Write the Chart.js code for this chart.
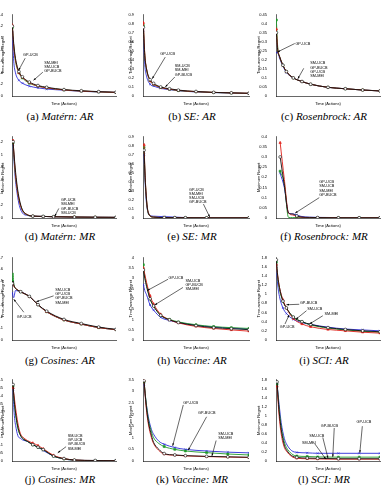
<!DOCTYPE html>
<html><head><meta charset="utf-8">
<script src="https://cdn.jsdelivr.net/npm/chart.js@4/dist/chart.umd.min.js"></script>
<style>
body{margin:0;background:#fff;width:385px;height:491px;position:relative;overflow:hidden}
canvas{position:absolute}
.cap{position:absolute;width:130px;margin-left:-65px;font-family:"Liberation Serif","DejaVu Serif",serif;font-size:11px;text-align:center;white-space:nowrap;color:#000}
</style></head><body>
<script>
// x samples (actions) shared by the time-average panels
var arX = [1, 5, 10, 20, 30, 50, 75, 100, 150, 200, 250, 300];
var arXTicks = [0, 50, 100, 150, 200, 250, 300];
var mrXTicks = [0, 20, 40, 60, 80, 100];

// (a) Matern AR
var aSmUcb  = [1.20, 0.90, 0.65, 0.42, 0.33, 0.24, 0.18, 0.15, 0.11, 0.09, 0.075, 0.065];
var aSmMei  = [1.22, 0.85, 0.62, 0.40, 0.32, 0.23, 0.17, 0.14, 0.105, 0.085, 0.072, 0.062];
var aGpBucb = [1.18, 0.86, 0.60, 0.40, 0.31, 0.22, 0.17, 0.14, 0.105, 0.085, 0.07, 0.06];
var aGpUcb  = [1.10, 0.60, 0.40, 0.27, 0.22, 0.17, 0.14, 0.12, 0.10, 0.08, 0.07, 0.06];
var aYTicks = [0, 0.2, 0.4, 0.6, 0.8, 1, 1.2, 1.4];

// (b) SE AR
var bSmUcb  = [0.76, 0.45, 0.30, 0.18, 0.14, 0.10, 0.08, 0.065, 0.05, 0.04, 0.035, 0.03];
var bSmMei  = [0.81, 0.47, 0.30, 0.17, 0.13, 0.095, 0.075, 0.062, 0.048, 0.04, 0.034, 0.03];
var bGpBucb = [0.78, 0.45, 0.29, 0.17, 0.13, 0.095, 0.075, 0.06, 0.047, 0.039, 0.033, 0.029];
var bGpUcb  = [0.72, 0.35, 0.22, 0.13, 0.11, 0.085, 0.07, 0.058, 0.045, 0.038, 0.032, 0.028];
var bYTicks = [0, 0.1, 0.2, 0.3, 0.4, 0.5, 0.6, 0.7, 0.8, 0.9];

// (c) Rosenbrock AR
var cSmUcb  = [0.35, 0.25, 0.22, 0.17, 0.135, 0.10, 0.08, 0.065, 0.048, 0.04, 0.033, 0.028];
var cSmMei  = [0.37, 0.26, 0.22, 0.17, 0.135, 0.10, 0.08, 0.065, 0.048, 0.04, 0.033, 0.028];
var cGpBucb = [0.42, 0.27, 0.22, 0.17, 0.135, 0.10, 0.08, 0.065, 0.048, 0.04, 0.033, 0.028];
var cGpUcb  = [0.24, 0.24, 0.21, 0.165, 0.13, 0.10, 0.08, 0.065, 0.048, 0.04, 0.033, 0.028];
var cYTicks = [0, 0.05, 0.1, 0.15, 0.2, 0.25, 0.3, 0.35, 0.4, 0.45];

// (d) Matern MR
var dX      = [1, 3, 5, 7, 10, 15, 20, 30, 40, 60, 80, 100];
var dSmUcb  = [1.20, 0.80, 0.50, 0.30, 0.13, 0.05, 0.03, 0.025, 0.02, 0.015, 0.012, 0.01];
var dSmMei  = [1.22, 0.75, 0.45, 0.27, 0.12, 0.05, 0.03, 0.025, 0.02, 0.015, 0.012, 0.01];
var dGpBucb = [1.18, 0.72, 0.45, 0.27, 0.12, 0.045, 0.03, 0.025, 0.02, 0.015, 0.012, 0.01];
var dGpUcb  = [1.15, 0.65, 0.38, 0.20, 0.08, 0.04, 0.03, 0.025, 0.02, 0.015, 0.012, 0.01];
var dYTicks = [0, 0.2, 0.4, 0.6, 0.8, 1, 1.2];

// (e) SE MR
var eX      = [1, 2, 3, 4, 5, 7, 10, 20, 30, 40, 60, 100];
var eSmUcb  = [0.75, 0.45, 0.25, 0.12, 0.06, 0.02, 0.01, 0.005, 0.004, 0.003, 0.002, 0.002];
var eSmMei  = [0.81, 0.47, 0.26, 0.12, 0.06, 0.02, 0.01, 0.005, 0.004, 0.003, 0.002, 0.002];
var eGpBucb = [0.78, 0.45, 0.24, 0.11, 0.05, 0.02, 0.01, 0.005, 0.004, 0.003, 0.002, 0.002];
var eGpUcb  = [0.70, 0.40, 0.20, 0.10, 0.05, 0.025, 0.02, 0.015, 0.01, 0.005, 0.003, 0.002];
var eYTicks = [0, 0.1, 0.2, 0.3, 0.4, 0.5, 0.6, 0.7, 0.8, 0.9];

// (f) Rosenbrock MR
var fX      = [1, 2, 3, 4, 5, 6, 8, 10, 15, 20, 25];
var fSmUcb  = [0.30, 0.16, 0.025, 0.02, 0.01, 0.005, 0.003, 0.002, 0.001, 0.001, 0.001];
var fSmMei  = [0.37, 0.19, 0.025, 0.015, 0.008, 0.004, 0.002, 0.002, 0.001, 0.001, 0.001];
var fGpBucb = [0.23, 0.17, 0.003, 0.002, 0.002, 0.001, 0.001, 0.001, 0.001, 0.001, 0.001];
var fGpUcb  = [0.22, 0.15, 0.025, 0.02, 0.015, 0.008, 0.004, 0.003, 0.002, 0.001, 0.001];
var fXTicks = [0, 5, 10, 15, 20, 25];
var fYTicks = [0, 0.05, 0.1, 0.15, 0.2, 0.25, 0.3, 0.35, 0.4];

// (g) Cosines AR
var gX      = [1, 3, 5, 10, 25, 50, 75, 100, 150, 200, 250, 300];
var gSmUcb  = [0.48, 0.50, 0.47, 0.44, 0.41, 0.37, 0.30, 0.245, 0.175, 0.14, 0.11, 0.09];
var gSmMei  = [0.48, 0.49, 0.46, 0.44, 0.41, 0.37, 0.30, 0.24, 0.17, 0.135, 0.105, 0.088];
var gGpBucb = [0.50, 0.57, 0.48, 0.44, 0.41, 0.37, 0.30, 0.24, 0.17, 0.135, 0.105, 0.088];
var gGpUcb  = [0.40, 0.37, 0.36, 0.42, 0.41, 0.37, 0.30, 0.24, 0.17, 0.135, 0.105, 0.088];
var gYTicks = [0, 0.1, 0.2, 0.3, 0.4, 0.5, 0.6, 0.7];

// (h) Vaccine AR
var hSmUcb  = [3.40, 3.00, 2.60, 2.00, 1.65, 1.20, 0.98, 0.85, 0.70, 0.60, 0.55, 0.50];
var hSmMei  = [3.50, 3.20, 2.80, 2.15, 1.75, 1.25, 0.98, 0.83, 0.66, 0.56, 0.49, 0.43];
var hGpBucb = [3.65, 3.10, 2.70, 2.00, 1.65, 1.20, 1.00, 0.88, 0.74, 0.65, 0.60, 0.56];
var hGpUcb  = [2.70, 2.40, 2.20, 1.70, 1.45, 1.10, 0.95, 0.85, 0.72, 0.63, 0.58, 0.53];
var hYTicks = [0, 0.5, 1, 1.5, 2, 2.5, 3, 3.5, 4];

// (i) SCI AR
var iSmUcb  = [1.75, 1.40, 1.15, 0.85, 0.70, 0.50, 0.40, 0.34, 0.27, 0.23, 0.20, 0.18];
var iSmMei  = [1.65, 1.40, 1.15, 0.88, 0.70, 0.47, 0.35, 0.29, 0.23, 0.20, 0.17, 0.15];
var iGpBucb = [1.70, 1.35, 1.10, 0.85, 0.70, 0.50, 0.40, 0.33, 0.26, 0.22, 0.19, 0.17];
var iGpUcb  = [1.60, 1.20, 0.95, 0.70, 0.58, 0.45, 0.38, 0.34, 0.28, 0.24, 0.22, 0.20];
var iYTicks = [0, 0.2, 0.4, 0.6, 0.8, 1, 1.2, 1.4, 1.6, 1.8];

// (j) Cosines MR
var jX      = [1, 2, 4, 6, 8, 10, 15, 20, 25, 30, 40, 50, 60, 80, 100];
var jSmUcb  = [0.47, 0.38, 0.27, 0.20, 0.16, 0.14, 0.12, 0.10, 0.085, 0.07, 0.03, 0.015, 0.006, 0.003, 0.002];
var jSmMei  = [0.45, 0.40, 0.30, 0.22, 0.17, 0.15, 0.125, 0.11, 0.095, 0.075, 0.035, 0.015, 0.006, 0.003, 0.002];
var jGpBucb = [0.46, 0.37, 0.26, 0.19, 0.16, 0.14, 0.12, 0.10, 0.085, 0.07, 0.03, 0.013, 0.005, 0.003, 0.002];
var jGpUcb  = [0.44, 0.30, 0.20, 0.15, 0.14, 0.13, 0.12, 0.10, 0.085, 0.065, 0.03, 0.012, 0.005, 0.003, 0.002];
var jYTicks = [0, 0.05, 0.1, 0.15, 0.2, 0.25, 0.3, 0.35, 0.4, 0.45, 0.5];

// (k) Vaccine MR
var kX      = [1, 3, 5, 8, 10, 15, 20, 30, 40, 60, 80, 100];
var kSmUcb  = [3.45, 2.40, 1.70, 1.10, 0.80, 0.50, 0.32, 0.26, 0.23, 0.20, 0.18, 0.16];
var kSmMei  = [3.45, 2.30, 1.60, 1.00, 0.75, 0.45, 0.30, 0.25, 0.22, 0.19, 0.17, 0.15];
var kGpBucb = [3.40, 2.50, 1.80, 1.25, 1.00, 0.75, 0.62, 0.50, 0.43, 0.36, 0.30, 0.26];
var kGpUcb  = [3.30, 2.50, 1.90, 1.35, 1.15, 0.85, 0.72, 0.58, 0.50, 0.43, 0.38, 0.35];
var kYTicks = [0, 0.5, 1, 1.5, 2, 2.5, 3, 3.5];

// (l) SCI MR
var lSmUcb  = [1.75, 1.10, 0.70, 0.35, 0.25, 0.12, 0.08, 0.065, 0.06, 0.05, 0.05, 0.05];
var lSmMei  = [1.65, 1.00, 0.60, 0.30, 0.22, 0.10, 0.06, 0.05, 0.045, 0.04, 0.04, 0.04];
var lGpBucb = [1.70, 1.15, 0.75, 0.42, 0.30, 0.16, 0.11, 0.10, 0.09, 0.085, 0.085, 0.085];
var lGpUcb  = [1.70, 1.25, 0.85, 0.50, 0.38, 0.23, 0.19, 0.18, 0.17, 0.17, 0.17, 0.17];
var lYTicks = [0, 0.2, 0.4, 0.6, 0.8, 1, 1.2, 1.4, 1.6, 1.8];

var AR = 'Time-average Regret', MR = 'Minimum Regret';

// series drawn in this order: SM-UCB, SM-MEI, GP-BUCB, GP-UCB
var colors = ['#111111', '#e0201a', '#1f9a2a', '#2b2bd8'];
var marks = ['circle', 'triangle', 'rect', 'crossRot'];

// layout per grid column / row
var colLeft = [0, 128, 256], colW = [128, 128, 129];
var areaL = [12, 143, 276], areaR = [116, 249, 380];
var rowTop = [13, 135, 256, 378], rowBot = [96, 218, 340, 461];
var capY = [117, 237, 361, 480];

// t = text position, s/e = arrow start/end, all in data units
var panels = [
  {cap: '(a)', it: 'Matérn: AR', x: arX, s: [aSmUcb, aSmMei, aGpBucb, aGpUcb], xt: arXTicks, yt: aYTicks, xmax: 300, ymax: 1.4, yl: AR, mk: 20,
   notes: [{l: ['GP-UCB'], t: [32, 0.71], s: [38, 0.65], e: [19, 0.44]},
           {l: ['SM-MEI', 'SM-UCB', 'GP-BUCB'], t: [93, 0.57], s: [89, 0.41], e: [62, 0.27]}]},
  {cap: '(b)', it: 'SE: AR', x: arX, s: [bSmUcb, bSmMei, bGpBucb, bGpUcb], xt: arXTicks, yt: bYTicks, xmax: 300, ymax: 0.9, yl: AR, mk: 20,
   notes: [{l: ['GP-UCB'], t: [49, 0.46], s: [63, 0.43], e: [26, 0.19]},
           {l: ['SM-UCB', 'SM-MEI', 'GP-BUCB'], t: [90, 0.33], s: [90, 0.21], e: [63, 0.1]}]},
  {cap: '(c)', it: 'Rosenbrock: AR', x: arX, s: [cSmUcb, cSmMei, cGpBucb, cGpUcb], xt: arXTicks, yt: cYTicks, xmax: 300, ymax: 0.45, yl: AR, mk: 20,
   notes: [{l: ['GP-UCB'], t: [56, 0.29], s: [54, 0.29], e: [4, 0.243]},
           {l: ['SM-UCB', 'GP-BUCB', 'GP-UCB', 'SM-MEI'], t: [99, 0.18], s: [80, 0.153], e: [63, 0.095]}]},
  {cap: '(d)', it: 'Matérn: MR', x: dX, s: [dSmUcb, dSmMei, dGpBucb, dGpUcb], xt: mrXTicks, yt: dYTicks, xmax: 100, ymax: 1.28, yl: MR, mk: 20,
   notes: [{l: ['GP-UCB', 'SM-MEI', 'GP-BUCB', 'SM-UCB'], t: [47, 0.28], s: [45, 0.15], e: [41, 0.025]}]},
  {cap: '(e)', it: 'SE: MR', x: eX, s: [eSmUcb, eSmMei, eGpBucb, eGpUcb], xt: mrXTicks, yt: eYTicks, xmax: 100, ymax: 0.9, yl: MR, mk: 20,
   notes: [{l: ['GP-UCB', 'SM-MEI', 'SM-UCB', 'GP-BUCB'], t: [43.5, 0.315], s: [57, 0.154], e: [63, 0.01]}]},
  {cap: '(f)', it: 'Rosenbrock: MR', x: fX, s: [fSmUcb, fSmMei, fGpBucb, fGpUcb], xt: fXTicks, yt: fYTicks, xmax: 25, ymax: 0.4, yl: MR, mk: 5,
   notes: [{l: ['GP-UCB', 'SM-UCB', 'SM-MEI', 'GP-BUCB'], t: [10.4, 0.176], s: [10.4, 0.1], e: [4.6, 0.024]}]},
  {cap: '(g)', it: 'Cosines: AR', x: gX, s: [gSmUcb, gSmMei, gGpBucb, gGpUcb], xt: arXTicks, yt: gYTicks, xmax: 300, ymax: 0.7, yl: AR, mk: 25,
   notes: [{l: ['SM-UCB', 'GP-UCB', 'GP-BUCB', 'SM-MEI'], t: [125, 0.425], s: [120, 0.375], e: [70, 0.325]},
           {l: ['GP-UCB'], t: [14, 0.2], s: [34, 0.236], e: [5, 0.347]}]},
  {cap: '(h)', it: 'Vaccine: AR', x: arX, s: [hSmUcb, hSmMei, hGpBucb, hGpUcb], xt: arXTicks, yt: hYTicks, xmax: 300, ymax: 4, yl: AR, mk: 20,
   notes: [{l: ['GP-UCB'], t: [72, 3.03], s: [71, 2.95], e: [12, 2.4]},
           {l: ['SM-UCB', 'GP-BUCB', 'SM-MEI'], t: [120, 2.87], s: [113, 2.55], e: [33, 1.7]}]},
  {cap: '(i)', it: 'SCI: AR', x: arX, s: [iSmUcb, iSmMei, iGpBucb, iGpUcb], xt: arXTicks, yt: iYTicks, xmax: 300, ymax: 1.8, yl: AR, mk: 20,
   notes: [{l: ['GP-BUCB'], t: [69, 0.8], s: [67, 0.78], e: [30, 0.77]},
           {l: ['SM-UCB'], t: [90, 0.68], s: [88, 0.64], e: [57, 0.45]},
           {l: ['SM-MEI'], t: [140, 0.56], s: [135, 0.53], e: [97, 0.35]},
           {l: ['GP-UCB'], t: [11, 0.28], s: [26, 0.35], e: [38, 0.55]}]},
  {cap: '(j)', it: 'Cosines: MR', x: jX, s: [jSmUcb, jSmMei, jGpBucb, jGpUcb], xt: mrXTicks, yt: jYTicks, xmax: 100, ymax: 0.5, yl: MR, mk: 20,
   notes: [{l: ['SM-UCB', 'GP-UCB', 'GP-BUCB', 'SM-MEI'], t: [53.5, 0.154], s: [52, 0.088], e: [44, 0.05]}]},
  {cap: '(k)', it: 'Vaccine: MR', x: kX, s: [kSmUcb, kSmMei, kGpBucb, kGpUcb], xt: mrXTicks, yt: kYTicks, xmax: 100, ymax: 3.5, yl: MR, mk: 20,
   notes: [{l: ['GP-UCB'], t: [38, 2.48], s: [38, 2.41], e: [28, 0.65]},
           {l: ['GP-BUCB'], t: [52, 2.06], s: [60, 1.9], e: [42.6, 0.46]},
           {l: ['SM-UCB', 'SM-MEI'], t: [71, 1.16], s: [69, 0.88], e: [65, 0.21]}]},
  {cap: '(l)', it: 'SCI: MR', x: kX, s: [lSmUcb, lSmMei, lGpBucb, lGpUcb], xt: mrXTicks, yt: lYTicks, xmax: 100, ymax: 1.8, yl: MR, mk: 20,
   notes: [{l: ['GP-UCB'], t: [77.5, 0.86], s: [83, 0.77], e: [80.6, 0.18]},
           {l: ['GP-BUCB'], t: [43, 0.77], s: [56, 0.73], e: [54.6, 0.09]},
           {l: ['SM-UCB'], t: [32, 0.55], s: [45, 0.52], e: [50, 0.06]},
           {l: ['SM-MEI'], t: [25, 0.41], s: [37, 0.39], e: [48, 0.04]}]}
];

function fmt(v) { return String(+(+v).toFixed(3)); }

function notesPlugin(notes) {
  return {
    id: 'notes',
    afterDatasetsDraw: function (chart) {
      var ctx = chart.ctx, x = chart.scales.x, y = chart.scales.y;
      ctx.save();
      ctx.font = '3.8px "Liberation Sans", Arial, sans-serif';
      ctx.fillStyle = '#000';
      ctx.strokeStyle = '#000';
      ctx.lineWidth = 0.6;
      ctx.textBaseline = 'middle';
      notes.forEach(function (n) {
        var tx = x.getPixelForValue(n.t[0]), ty = y.getPixelForValue(n.t[1]);
        n.l.forEach(function (s, i) { ctx.fillText(s, tx, ty + i * 4.2); });
        var sx = x.getPixelForValue(n.s[0]), sy = y.getPixelForValue(n.s[1]);
        var ex = x.getPixelForValue(n.e[0]), ey = y.getPixelForValue(n.e[1]);
        ctx.beginPath(); ctx.moveTo(sx, sy); ctx.lineTo(ex, ey); ctx.stroke();
        var a = Math.atan2(ey - sy, ex - sx), L = 2.6, W = 0.9;
        ctx.beginPath();
        ctx.moveTo(ex, ey);
        ctx.lineTo(ex - L * Math.cos(a) + W * Math.sin(a), ey - L * Math.sin(a) - W * Math.cos(a));
        ctx.lineTo(ex - L * Math.cos(a) - W * Math.sin(a), ey - L * Math.sin(a) + W * Math.cos(a));
        ctx.closePath(); ctx.fill();
      });
      ctx.restore();
    }
  };
}

var names = ['SM-UCB', 'SM-MEI', 'GP-BUCB', 'GP-UCB'];
var tickFont = {family: '"Liberation Sans", Arial, sans-serif', size: 4};

panels.forEach(function (p, k) {
  var col = k % 3, row = Math.floor(k / 3);
  var padTop = 3, xH = 10;
  var top = rowTop[row] - padTop;
  var h = padTop + (rowBot[row] - rowTop[row]) + xH;
  var cv = document.createElement('canvas');
  cv.width = colW[col]; cv.height = h;
  cv.style.left = colLeft[col] + 'px'; cv.style.top = top + 'px';
  document.body.appendChild(cv);

  var cap = document.createElement('div');
  cap.className = 'cap';
  cap.style.left = ((areaL[col] + areaR[col]) / 2 - 4) + 'px';
  cap.style.top = (capY[row] - 7) + 'px';
  cap.innerHTML = p.cap + ' <i>' + p.it + '</i>';
  document.body.appendChild(cap);

  var datasets = p.s.map(function (ys, j) {
    return {
      label: names[j],
      data: p.x.map(function (v, i) { return {x: v, y: ys[i]}; }),
      borderColor: colors[j],
      backgroundColor: j === 0 ? '#fff' : colors[j],
      borderWidth: 0.9,
      pointStyle: marks[j],
      pointBorderWidth: 0.6,
      pointRadius: function (c) {
        var v = p.x[c.dataIndex];
        return (c.dataIndex === 0 || (v >= p.mk && v % 5 === 0)) ? 1.4 : 0;
      },
      cubicInterpolationMode: 'monotone',
      fill: false
    };
  });

  new Chart(cv, {
    type: 'line',
    data: {datasets: datasets},
    options: {
      responsive: false, animation: false, devicePixelRatio: 1,
      layout: {padding: {top: padTop, right: colW[col] - (areaR[col] - colLeft[col]), left: 0, bottom: 0}},
      plugins: {legend: {display: false}, tooltip: {enabled: false}},
      scales: {
        x: {
          type: 'linear', min: 0, max: p.xmax,
          afterBuildTicks: function (a) { a.ticks = p.xt.map(function (v) { return {value: v}; }); },
          afterFit: function (s) { s.height = xH; },
          ticks: {font: tickFont, color: '#000', padding: 1, maxRotation: 0, autoSkip: false, callback: fmt},
          grid: {display: false},
          border: {color: '#000', width: 0.6},
          title: {display: true, text: 'Time (Actions)', font: tickFont, color: '#000', padding: 0}
        },
        y: {
          min: 0, max: p.ymax,
          afterBuildTicks: function (a) { a.ticks = p.yt.map(function (v) { return {value: v}; }); },
          afterFit: function (s) { s.width = areaL[col] - colLeft[col]; },
          ticks: {font: tickFont, color: '#000', padding: 1, autoSkip: false, callback: fmt},
          grid: {display: false},
          border: {color: '#000', width: 0.6},
          title: {display: true, text: p.yl, font: tickFont, color: '#000', padding: 0}
        }
      }
    },
    plugins: [notesPlugin(p.notes)]
  });
});
</script>
</body></html>
